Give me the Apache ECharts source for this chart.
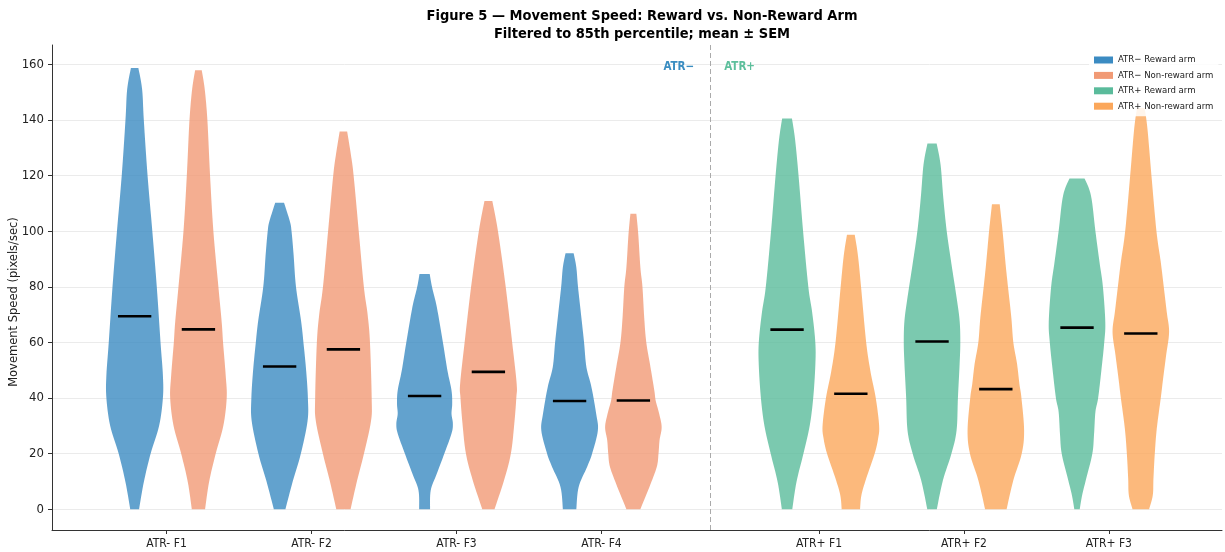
<!DOCTYPE html>
<html>
<head>
<meta charset="utf-8">
<title>Movement Speed: Reward vs. Non-Reward Arm</title>
<script src="https://cdn.jsdelivr.net/npm/echarts@6/dist/echarts.min.js"></script>
<style>
  html, body { margin: 0; padding: 0; background: #fff; }
  #chart { width: 1225px; height: 552px; }
</style>
</head>
<body>
<div id="chart"></div>
<script>
// Groups along the x axis and the cohort each belongs to
const categories = ['ATR- F1', 'ATR- F2', 'ATR- F3', 'ATR- F4', 'ATR+ F1', 'ATR+ F2', 'ATR+ F3'];
const cohorts = ['ATR−', 'ATR−', 'ATR−', 'ATR−', 'ATR+', 'ATR+', 'ATR+'];
const cohortNames = ['ATR−', 'ATR+'];

// Speed axis ticks (pixels/sec)
const speedTicks = [0, 20, 40, 60, 80, 100, 120, 140, 160];

// Mean movement speed per group
const rewardMeans = [69.4, 51.3, 40.7, 38.9, 64.6, 60.3, 65.3];
const nonRewardMeans = [64.7, 57.5, 49.4, 39.1, 41.5, 43.2, 63.2];

// Density profiles per group: [speed, relative density], from min to max speed
const rewardProfiles = [
  [[0, 13], [9.8, 27], [20, 47], [30.1, 72], [40.1, 83], [48.1, 83], [60, 76], [80, 65], [99.9, 52], [119.9, 38], [139.8, 27], [151, 22], [158.7, 11]],
  [[0, 17], [10.2, 39], [19.8, 62], [31.7, 82], [39.9, 83], [49.7, 78], [59.9, 70], [67.7, 63], [80, 48], [91.6, 41], [100, 35], [103.6, 30], [110.2, 13]],
  [[0, 16], [6.8, 18], [12.8, 36], [20, 58], [27.2, 79], [30.7, 83], [34.3, 79], [37.9, 81], [42.7, 79], [49.9, 67], [59.8, 54], [72.6, 36], [79.8, 22], [84.6, 15]],
  [[0, 20], [8, 27], [15.2, 52], [20, 67], [28.3, 84], [34.3, 79], [43.9, 65], [51.1, 50], [60, 43], [69, 35], [80, 25], [87, 20], [92.1, 12]],
  [[0, 15], [9.8, 27], [20, 47], [30.1, 65], [40.1, 75], [51.7, 81], [60, 81], [70.8, 72], [79.9, 61], [99.9, 46], [119.9, 33], [133, 23], [140.6, 14]],
  [[0, 14], [10.4, 32], [20, 57], [28.3, 72], [40.1, 76], [52.3, 81], [60, 83], [67.8, 81], [76.2, 72], [88.2, 57], [100.1, 43], [112.1, 33], [124, 25], [131.6, 13.5]],
  [[0, 8], [5, 15], [11, 27], [20, 45], [27, 50], [35, 54], [40, 62], [50.5, 72], [60.1, 80], [67.3, 83], [80, 76], [88.9, 66], [100, 54], [112.8, 41], [119, 22]]
];
const nonRewardProfiles = [
  [[0, 20], [9.8, 32], [20, 52], [30.1, 75], [40.1, 85], [48.1, 82], [60, 74], [67.2, 70], [80, 60], [99.9, 45], [119.9, 35], [139.8, 27], [151, 19], [157.9, 10]],
  [[0, 21], [10.2, 40], [19.8, 60], [31.7, 81], [39.9, 83], [59.9, 78], [70.1, 71], [80, 60], [100, 45], [120, 30], [127.5, 22], [135.9, 11]],
  [[0, 18], [10.4, 46], [20, 66], [30.7, 76], [40.1, 82], [45.1, 83], [59.8, 70], [79.8, 51], [100.1, 28], [110.9, 11.5]],
  [[0, 20], [8, 46], [15.2, 67], [20, 72], [24.8, 75], [29.5, 81], [34.3, 74], [39, 64], [42.7, 60], [51.1, 49], [60, 37], [69, 31], [80, 26], [87, 20], [98.9, 14], [106.3, 8.5]],
  [[0, 27], [5, 31], [11, 45], [20, 70], [25.4, 80], [30.1, 83], [40.1, 73], [49.3, 58], [60, 45], [79.9, 30], [91.1, 21], [98.7, 11.5]],
  [[0, 32], [10.4, 52], [20, 77], [28.3, 84], [40.1, 76], [45.1, 70], [52.3, 63], [60, 52], [69, 46], [80.1, 36], [88.2, 29], [100.1, 20], [109.7, 11.5]],
  [[0, 25], [5, 36], [11, 38], [20, 42], [29, 48], [40, 60], [46.9, 67], [55.3, 76], [63.7, 85], [70.9, 78], [80, 69], [88.9, 60], [100, 47], [120, 32], [136.8, 20], [144.3, 11.5]]
];

// Colours: reward / non-reward arm for each cohort
const armColors = {
  'ATR−': { reward: '#3b8bc2', nonReward: '#f19a75' },
  'ATR+': { reward: '#5abb9b', nonReward: '#fba75b' }
};
const cohortLabelColors = { 'ATR−': '#3a8dc1', 'ATR+': '#5dbf9c' };

// Geometry in x-axis units
const COHORT_GAP = 0.5;      // extra space between the two cohorts
const ARM_OFFSET = 0.22;     // distance of each violin from the group centre
const HALF_WIDTH = 0.195;    // half of the widest violin
const MEAN_HALF = 0.115;     // half length of the mean marker
const FILL_OPACITY = 0.8;

// x position of each group: consecutive, with a gap before the second cohort
const positions = categories.map((c, i) => i + (cohorts[i] === cohortNames[1] ? COHORT_GAP : 0));
const lastFirst = cohorts.lastIndexOf(cohortNames[0]);
const dividerX = (positions[lastFirst] + positions[lastFirst + 1]) / 2;

const FONT_NARROW = "'Liberation Sans Narrow', 'DejaVu Sans Condensed', 'DejaVu Sans', sans-serif";
const FONT_COND = "'DejaVu Sans Condensed', 'DejaVu Sans', sans-serif";

// Catmull-Rom smoothing of one outline side (pixel points)
function smoothSide(pts, steps) {
  const out = [];
  for (let i = 0; i < pts.length - 1; i++) {
    const p0 = pts[Math.max(i - 1, 0)], p1 = pts[i], p2 = pts[i + 1], p3 = pts[Math.min(i + 2, pts.length - 1)];
    for (let s = 0; s < steps; s++) {
      const t = s / steps, t2 = t * t, t3 = t2 * t;
      const f = (a, b, c, d) => 0.5 * ((2 * b) + (-a + c) * t + (2 * a - 5 * b + 4 * c - d) * t2 + (-a + 3 * b - 3 * c + d) * t3);
      out.push([f(p0[0], p1[0], p2[0], p3[0]), f(p0[1], p1[1], p2[1], p3[1])]);
    }
  }
  out.push(pts[pts.length - 1]);
  return out;
}

function violinRenderer(side, profiles, fill) {
  return function (params, api) {
    const idx = api.value(2);
    const cx = api.value(0) + side * ARM_OFFSET;
    const prof = profiles[idx];
    const peak = Math.max.apply(null, prof.map(p => p[1]));
    const right = prof.map(p => api.coord([cx + HALF_WIDTH * p[1] / peak, p[0]]));
    const left = prof.map(p => api.coord([cx - HALF_WIDTH * p[1] / peak, p[0]])).reverse();
    const outline = smoothSide(right, 8).concat(smoothSide(left, 8));
    const mean = api.value(1);
    const a = api.coord([cx - MEAN_HALF, mean]);
    const b = api.coord([cx + MEAN_HALF, mean]);
    return {
      type: 'group',
      children: [
        { type: 'polygon', shape: { points: outline }, style: { fill: fill, opacity: FILL_OPACITY } },
        { type: 'line', z2: 10, shape: { x1: a[0], y1: a[1], x2: b[0], y2: b[1] }, style: { stroke: '#000', lineWidth: 2.6 } }
      ]
    };
  };
}

const series = [];
const legendNames = [];
cohortNames.forEach(cohort => {
  [
    { key: 'reward', label: 'Reward arm', side: -1, means: rewardMeans, profiles: rewardProfiles },
    { key: 'nonReward', label: 'Non-reward arm', side: 1, means: nonRewardMeans, profiles: nonRewardProfiles }
  ].forEach(arm => {
    const name = cohort + ' ' + arm.label;
    const color = armColors[cohort][arm.key];
    legendNames.push(name);
    const data = [];
    categories.forEach((c, i) => {
      if (cohorts[i] === cohort) data.push([positions[i], arm.means[i], i]);
    });
    series.push({
      type: 'custom',
      name: name,
      itemStyle: { color: color },
      encode: { x: 0, y: 1 },
      data: data,
      renderItem: violinRenderer(arm.side, arm.profiles, color),
      z: 3
    });
  });
});

// Dashed divider between cohorts, with cohort names at the top
series.push({
  type: 'custom',
  name: 'cohorts',
  data: [[dividerX, 159.5, 0], [dividerX, 159.5, 1]],
  encode: { x: 0, y: 1 },
  renderItem: function (params, api) {
    const k = api.value(2);
    const p = api.coord([api.value(0), api.value(1)]);
    const name = cohortNames[k];
    return {
      type: 'text',
      x: p[0] + (k === 0 ? -16 : 14),
      y: p[1] + 1,
      style: {
        text: name,
        fill: cohortLabelColors[name],
        font: 'bold 11.5px ' + FONT_COND,
        align: k === 0 ? 'right' : 'left',
        verticalAlign: 'middle'
      }
    };
  },
  markLine: {
    silent: true,
    symbol: ['none', 'none'],
    label: { show: false },
    lineStyle: { color: '#aaaaaa', type: [5, 3], width: 1 },
    data: [{ xAxis: dividerX }]
  },
  z: 2
});

const chart = echarts.init(document.getElementById('chart'), null, { renderer: 'canvas' });
chart.setOption({
  backgroundColor: '#ffffff',
  animation: false,
  title: {
    text: 'Figure 5 — Movement Speed: Reward vs. Non-Reward Arm\nFiltered to 85th percentile; mean ± SEM',
    left: 637,
    top: 2,
    textAlign: 'center',
    textStyle: { fontFamily: FONT_COND, fontWeight: 'bold', fontSize: 14.5, lineHeight: 18, color: '#000' }
  },
  legend: {
    data: legendNames,
    orient: 'vertical',
    left: 1089,
    top: 50,
    padding: [5, 5, 5, 5],
    itemWidth: 19,
    itemHeight: 7,
    itemGap: 5.4,
    icon: 'rect',
    backgroundColor: 'rgba(255,255,255,0.85)',
    textStyle: { fontFamily: FONT_COND, fontSize: 9.5, lineHeight: 10, color: '#222' },
    selectedMode: false
  },
  graphic: [{
    type: 'text',
    x: 14,
    y: 302,
    rotation: Math.PI / 2,
    style: {
      text: 'Movement Speed (pixels/sec)',
      font: '11.5px "DejaVu Sans", sans-serif',
      fill: '#222',
      align: 'center',
      verticalAlign: 'middle'
    }
  }],
  grid: { left: 52, right: 3, top: 45, bottom: 22, containLabel: false },
  xAxis: {
    type: 'value',
    min: -0.79,
    max: 7.28,
    axisLine: { show: true, onZero: false, lineStyle: { color: '#333', width: 1 } },
    axisTick: { show: true, length: 4, lineStyle: { color: '#333' }, customValues: positions },
    axisLabel: {
      customValues: positions,
      margin: 8,
      fontFamily: FONT_NARROW,
      fontSize: 12,
      color: '#222',
      formatter: v => {
        const i = positions.findIndex(p => Math.abs(p - v) < 1e-6);
        return i >= 0 ? categories[i] : '';
      }
    },
    splitLine: { show: false }
  },
  yAxis: {
    type: 'value',
    min: -7.5,
    max: 167,
    axisLine: { show: true, onZero: false, lineStyle: { color: '#333', width: 1 } },
    axisTick: { show: true, length: 4, lineStyle: { color: '#333' }, customValues: speedTicks },
    axisLabel: {
      customValues: speedTicks,
      margin: 8,
      fontFamily: FONT_NARROW,
      fontSize: 13,
      color: '#222'
    },
    splitLine: { show: true, lineStyle: { color: '#ebebeb', width: 1 } }
  },
  series: series
});
</script>
</body>
</html>
